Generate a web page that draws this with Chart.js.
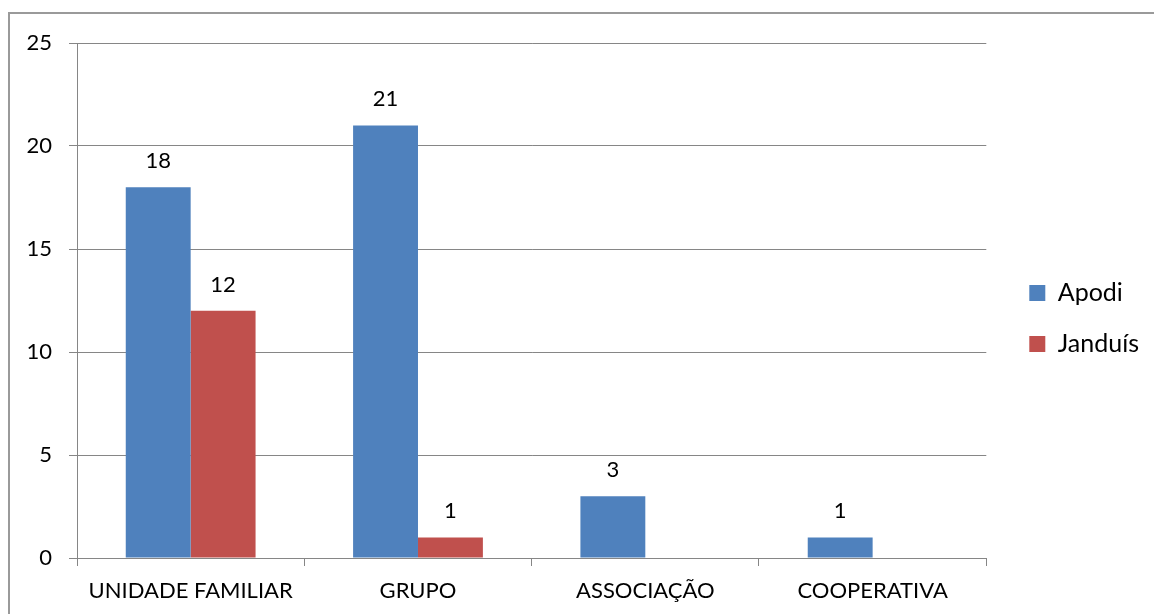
<!DOCTYPE html>
<html>
<head>
<meta charset="utf-8">
<script src="https://cdn.jsdelivr.net/npm/chart.js@4/dist/chart.umd.min.js"></script>
<style>
  html, body { margin: 0; padding: 0; background: #fff; }
  #wrap { position: relative; width: 1154px; height: 614px; }
  #frame {
    position: absolute; left: 8px; top: 12px; right: 0; bottom: 0;
    border-left: 2px solid #9a9a9a; border-top: 2px solid #9a9a9a;
    pointer-events: none;
  }
  canvas { position: absolute; left: 0; top: 0; }
</style>
</head>
<body>
<div id="wrap">
  <canvas id="chart" width="1154" height="614"></canvas>
  <div id="frame"></div>
</div>
<script>
// categorias e valores
const categorias = ['UNIDADE FAMILIAR', 'GRUPO', 'ASSOCIAÇÃO', 'COOPERATIVA'];
const apodi = [18, 21, 3, 1];
const janduis = [12, 1, null, null];
const yTicks = [0, 5, 10, 15, 20, 25];

const fonte = 'Lato, "Open Sans", sans-serif';

// rótulos de valor acima das barras
const rotulos = {
    id: 'rotulos',
    afterLayout(chart) {
        // empurra a legenda um pouco para a direita e para cima
        const lg = chart.legend;
        if (lg) {
            lg.left += 17; lg.right += 17;
            lg.top -= 10; lg.bottom -= 10;
        }
    },
    afterDatasetsDraw(chart) {
        const ctx = chart.ctx;
        ctx.save();
        ctx.font = '22px ' + fonte;
        ctx.fillStyle = '#000';
        ctx.textAlign = 'center';
        ctx.textBaseline = 'alphabetic';
        chart.data.datasets.forEach((ds, i) => {
            chart.getDatasetMeta(i).data.forEach((bar, j) => {
                const v = ds.data[j];
                if (v === null || v === undefined) return;
                ctx.fillText(String(v), bar.x, bar.y - 19);
            });
        });
        ctx.restore();
    }
};

new Chart(document.getElementById('chart'), {
    type: 'bar',
    data: {
        labels: categorias,
        datasets: [
            { label: 'Apodi', data: apodi, backgroundColor: '#4F81BD' },
            { label: 'Janduís', data: janduis, backgroundColor: '#C0504D' }
        ]
    },
    options: {
        responsive: false,
        animation: false,
        datasets: {
            bar: { barPercentage: 1, categoryPercentage: 0.571 }
        },
        layout: { padding: { top: 43, right: 22, bottom: 0, left: 0 } },
        plugins: {
            tooltip: { enabled: false },
            legend: {
                position: 'right',
                labels: {
                    boxWidth: 16,
                    boxHeight: 16,
                    padding: 26,
                    color: '#000',
                    font: { family: fonte, size: 25 }
                }
            }
        },
        scales: {
            x: {
                grid: { drawOnChartArea: false, drawTicks: true, tickLength: 8, color: '#868686' },
                border: { color: '#868686', width: 1 },
                ticks: { color: '#000', padding: 12, font: { family: fonte, size: 22 } },
                afterFit(axis) { axis.height = 56; }
            },
            y: {
                min: 0,
                max: 25,
                afterBuildTicks(axis) { axis.ticks = yTicks.map(v => ({ value: v })); },
                grid: { color: '#868686', tickLength: 8 },
                border: { color: '#868686', width: 1 },
                ticks: { color: '#000', padding: 17, font: { family: fonte, size: 22 } },
                afterFit(axis) { axis.width = 77; }
            }
        }
    },
    plugins: [rotulos]
});
</script>
</body>
</html>
